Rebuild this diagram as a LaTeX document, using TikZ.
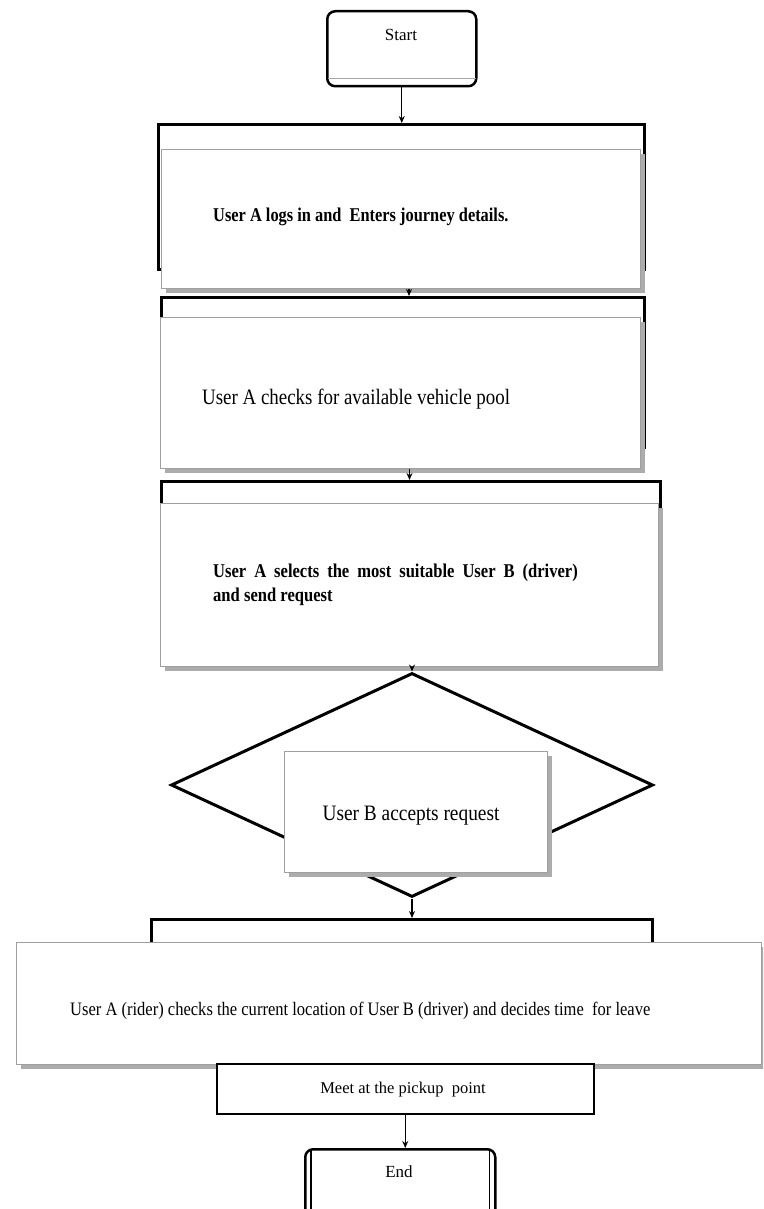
\documentclass[tikz,border=0pt]{standalone}
\usepackage{fontspec}
\setmainfont{Liberation Serif}
\usetikzlibrary{arrows.meta,shapes.geometric,shadows,calc}
\begin{document}
\begin{tikzpicture}[x=1pt,y=-1pt,
  thickrect/.style={draw=black, line width=3pt, rectangle, inner sep=0pt, anchor=north west},
  whitebox/.style={draw=gray!75, line width=1pt, fill=white, rectangle, inner sep=0pt, anchor=north west,
    drop shadow={shadow xshift=4.5pt, shadow yshift=-4.5pt, fill=gray!65, opacity=1}},
  txt/.style={inner sep=0pt, text=black},
  arr/.style={draw=black, line width=1.1pt, -{Stealth[length=7pt,width=6pt]}},
  term/.style={draw=black, line width=2.5pt, rounded corners=8pt, inner sep=0pt, anchor=north west, fill=white},
  boldtxt/.style={txt, font=\fontsize{19.5}{22}\selectfont\bfseries},
  camtxt/.style={txt, font=\fontsize{22}{25}\selectfont}
]
\useasboundingbox (0,0) rectangle (763,1209);
\fill[white] (0,0) rectangle (763,1209);
\clip (0,0) rectangle (763,1209);

% Start
\node[term, minimum width=149, minimum height=75] (start) at (326,10) {};
\draw[gray!70, line width=0.8pt] ($(start.south west)+(2,-9)$) -- ($(start.south east)+(-2,-9)$);
\node[txt, anchor=base, font=\fontsize{17}{20}\selectfont] (starttext) at (401,41) {Start};

% Box 1
\node[thickrect, minimum width=486, minimum height=145] (k1) at (157,123) {};
\node[whitebox, minimum width=479, minimum height=139] (b1) at (161,149) {};
\node[boldtxt, anchor=base west] (t1) at (213,221) {\scalebox{0.84}[1]{User A logs in and\ \ Enters journey details.}};

% Box 2
\node[thickrect, minimum width=483, minimum height=150] (k2) at (160,296) {};
\node[whitebox, minimum width=480, minimum height=151] (b2) at (160,317) {};
\node[camtxt, anchor=base west] (t2) at (202,404) {\scalebox{0.86}[1]{User A checks for available vehicle pool}};

% Box 3
\node[thickrect, minimum width=499, minimum height=165] (k3) at (160,480) {};
\node[whitebox, minimum width=498, minimum height=163] (b3) at (160,503) {};
\node[boldtxt, anchor=base west] (t3) at (213,577) {\scalebox{0.85}[1]{\parbox[t]{429pt}{\baselineskip=24.7pt User A selects the most suitable User B (driver)\linebreak and send request}}};

% Decision
\node[diamond, draw=black, line width=3pt, minimum width=482, minimum height=224, inner sep=0pt] (dia) at (412,785) {};
\node[whitebox, minimum width=263, minimum height=121] (b4) at (284,751) {};
\node[camtxt, anchor=base] (t4) at (411,820) {\scalebox{0.88}[1]{User B accepts request}};

% Box 5
\node[thickrect, minimum width=501, minimum height=40] (k5) at (150,918) {};
\node[whitebox, minimum width=745, minimum height=122] (b5) at (16,942) {};
\node[txt, anchor=base west, font=\fontsize{19}{22}\selectfont] (t5) at (70,1015) {\scalebox{0.87}[1]{User A (rider) checks the current location of User B (driver) and decides time\ \ for leave}};

% Meet
\node[draw=black, line width=1.5pt, fill=white, anchor=north west, minimum width=377, minimum height=50, inner sep=0pt] (b6) at (216,1063) {};
\node[txt, anchor=base, font=\fontsize{16.5}{20}\selectfont] (t6) at (403,1093) {Meet at the pickup\ \ point};

% End
\node[term, minimum width=190, minimum height=90] (end) at (304,1148) {};
\draw[line width=1.2pt] ($(end.north west)+(7,2)$) -- ($(end.south west)+(7,0)$);
\draw[line width=1.2pt] ($(end.north east)+(-7,2)$) -- ($(end.south east)+(-7,0)$);
\node[txt, anchor=base, font=\fontsize{17}{20}\selectfont] (endtext) at (399,1177) {End};

% Connectors
\draw[arr] (start.south) -- (start.south |- k1.north);
\draw[arr] ([xshift=8pt]b1.south) -- ([xshift=8pt]b1.south |- k2.north);
\draw[arr] ([xshift=9pt]b2.south) -- ([xshift=9pt]b2.south |- k3.north);
\draw[arr] (dia.north |- b3.south) -- (dia.north);
\draw[arr] (dia.south) -- (dia.south |- k5.north);
\draw[arr] (b6.south) -- (b6.south |- end.north);
\end{tikzpicture}
\end{document}
